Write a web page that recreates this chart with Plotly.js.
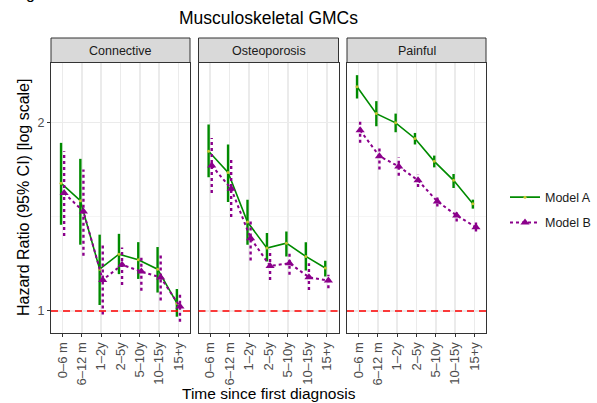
<!DOCTYPE html>
<html><head><meta charset="utf-8">
<script src="https://cdn.plot.ly/plotly-3.0.1.min.js"></script>
<style>html,body{margin:0;padding:0;background:#fff}</style>
</head><body><div id="chart" style="width:597px;height:403px"></div>
<script>
// ---- data ----
const categories = ['0\u20136 m','6\u201312 m','1\u20132y','2\u20135y','5\u201310y','10\u201315y','15+y'];
const panels = ['Connective','Osteoporosis','Painful'];
const seriesNames = ['Model A','Model B'];
const refLine = 1;

const connA    = [1.600,1.500,1.166,1.232,1.207,1.166,1.029];
const connA_lo = [1.373,1.276,1.022,1.145,1.125,1.070,0.979];
const connA_hi = [1.856,1.750,1.324,1.328,1.288,1.265,1.084];
const connB    = [1.543,1.442,1.121,1.185,1.156,1.131,1.016];
const connB_lo = [1.318,1.225,0.987,1.100,1.077,1.039,0.961];
const connB_hi = [1.800,1.682,1.276,1.263,1.229,1.226,1.071];

const osteoA    = [1.800,1.665,1.387,1.260,1.283,1.222,1.171];
const osteoA_lo = [1.635,1.493,1.276,1.199,1.222,1.160,1.135];
const osteoA_hi = [1.986,1.845,1.506,1.332,1.340,1.288,1.203];
const osteoB    = [1.707,1.568,1.307,1.180,1.192,1.132,1.118];
const osteoB_lo = [1.543,1.413,1.204,1.121,1.142,1.080,1.087];
const osteoB_hi = [1.890,1.745,1.390,1.252,1.246,1.192,1.142];

const painA    = [2.281,2.067,1.998,1.886,1.734,1.617,1.483];
const painA_lo = [2.185,1.973,1.930,1.845,1.696,1.572,1.457];
const painA_hi = [2.381,2.164,2.067,1.925,1.771,1.655,1.506];
const painB    = [1.944,1.767,1.702,1.617,1.496,1.421,1.361];
const painB_lo = [1.856,1.682,1.645,1.578,1.469,1.390,1.340];
const painB_hi = [2.022,1.833,1.760,1.651,1.524,1.451,1.385];

// ---- build ----
const A = [[connA,connA_lo,connA_hi],[osteoA,osteoA_lo,osteoA_hi],[painA,painA_lo,painA_hi]];
const B = [[connB,connB_lo,connB_hi],[osteoB,osteoB_lo,osteoB_hi],[painB,painB_lo,painB_hi]];
const FONT = 'Liberation Sans, Arial, sans-serif';
const DODGE = 0.08;
const styles = [
  {color:'#008B00', lineW:1.6, dash:'solid', ciW:2.4, marker:{symbol:'circle', size:3, color:'#c8c832'}},
  {color:'#8B008B', lineW:2, dash:'3px,3px', ciW:2.4, marker:{symbol:'triangle-up', size:8, color:'#8B008B'}}
];
const traces = [];
panels.forEach((p, pi) => {
  const xa = pi === 0 ? 'x' : 'x' + (pi + 1);
  const ya = pi === 0 ? 'y' : 'y' + (pi + 1);
  [A[pi], B[pi]].forEach((s, si) => {
    const st = styles[si];
    const off = si === 0 ? -DODGE : DODGE;
    const xs = categories.map((c, i) => i + off);
    const cx = [], cy = [];
    xs.forEach((x, i) => { cx.push(x, x, null); cy.push(s[1][i], s[2][i], null); });
    traces.push({x: cx, y: cy, xaxis: xa, yaxis: ya, mode: 'lines', type: 'scatter',
      line: {color: st.color, width: st.ciW, dash: st.dash}, showlegend: false,
      legendgroup: seriesNames[si], hoverinfo: 'skip'});
    traces.push({x: xs, y: s[0], xaxis: xa, yaxis: ya, mode: 'lines+markers', type: 'scatter',
      name: seriesNames[si], legendgroup: seriesNames[si], showlegend: pi === 0,
      line: {color: st.color, width: st.lineW, dash: st.dash}, marker: st.marker, hoverinfo: 'skip'});
  });
});

const L = 51, R = 486, T = 63, Bt = 333, W = 597, H = 403;
const pw = R - L, ph = Bt - T;
const px2x = v => (v - L) / pw;
const px2y = v => 1 - (v - T) / ph;
const domains = [[px2x(51), px2x(190)], [px2x(198.5), px2x(338.5)], [px2x(347), px2x(486)]];

const layout = {
  width: W, height: H, paper_bgcolor: '#fff', plot_bgcolor: '#fff',
  margin: {l: L, r: W - R, t: T, b: H - Bt, pad: 0, autoexpand: false},
  font: {family: FONT, size: 12, color: '#4d4d4d'},
  title: {text: 'Musculoskeletal GMCs', font: {family: FONT, size: 17.5, color: '#000'},
          x: 0.5, xref: 'paper', xanchor: 'center', y: 1 - 18 / H, yref: 'container', yanchor: 'middle'},
  showlegend: true,
  legend: {x: px2x(505), xanchor: 'left', y: px2y(210), yanchor: 'middle', bgcolor: 'rgba(0,0,0,0)',
           font: {family: FONT, size: 12.5, color: '#1a1a1a'}, itemwidth: 30, tracegroupgap: 6},
  shapes: [], annotations: []
};
const ylog = [Math.log10(0.922), Math.log10(2.49)];
panels.forEach((p, pi) => {
  const xk = pi === 0 ? 'xaxis' : 'xaxis' + (pi + 1);
  const yk = pi === 0 ? 'yaxis' : 'yaxis' + (pi + 1);
  const xa = pi === 0 ? 'x' : 'x' + (pi + 1);
  const ya = pi === 0 ? 'y' : 'y' + (pi + 1);
  layout[xk] = {domain: domains[pi], anchor: ya, range: [-0.6, categories.length - 0.4],
    tickmode: 'array', tickvals: categories.map((c, i) => i), ticktext: categories, tickangle: -90,
    showgrid: true, gridcolor: '#ebebeb', gridwidth: 1.4, zeroline: false,
    showline: true, mirror: true, linecolor: '#333333', linewidth: 1,
    ticks: 'outside', ticklen: 3, tickcolor: '#333333', tickwidth: 1,
    tickfont: {family: FONT, size: 13, color: '#4d4d4d'}, fixedrange: true};
  layout[yk] = {type: 'log', range: ylog, anchor: xa, domain: [0, 1],
    tickmode: 'array', tickvals: [1, 2], ticktext: ['1', '2'], showticklabels: pi === 0,
    showgrid: true, gridcolor: '#ebebeb', gridwidth: 1.4, zeroline: false,
    minor: {tickmode: 'array', tickvals: [Math.SQRT2], showgrid: true, gridcolor: '#f3f3f3', gridwidth: 0.8, ticks: ''},
    showline: true, mirror: true, linecolor: '#333333', linewidth: 1,
    ticks: pi === 0 ? 'outside' : '', ticklen: 3, tickcolor: '#333333', tickwidth: 1,
    tickfont: {family: FONT, size: 12.5, color: '#4d4d4d'}, fixedrange: true};
  // strip
  layout.shapes.push({type: 'rect', xref: xa + ' domain', yref: 'paper', x0: 0, x1: 1,
    y0: 1 + 0.5 / ph, y1: px2y(38), fillcolor: '#d9d9d9', line: {color: '#333333', width: 1}, layer: 'above'});
  layout.annotations.push({text: p, xref: xa + ' domain', yref: 'paper', x: 0.5, y: px2y(50.5),
    xanchor: 'center', yanchor: 'middle', showarrow: false, font: {family: FONT, size: 12.5, color: '#1a1a1a'}});
  // reference line
  layout.shapes.push({type: 'line', xref: xa + ' domain', yref: ya, x0: 0, x1: 1, y0: refLine, y1: refLine,
    line: {color: '#ff0000', width: 1.4, dash: '7px,5px'}, layer: 'above'});
});
layout.annotations.push({text: 'Time since first diagnosis', xref: 'paper', yref: 'paper', x: 0.5, y: px2y(393),
  xanchor: 'center', yanchor: 'middle', showarrow: false, font: {family: FONT, size: 15.5, color: '#000'}});
layout.annotations.push({text: 'Hazard Ratio (95% CI) [log scale]', xref: 'paper', yref: 'paper', x: px2x(23), y: 0.5,
  xanchor: 'center', yanchor: 'middle', textangle: -90, showarrow: false, font: {family: FONT, size: 16, color: '#000'}});
layout.annotations.push({text: 'g', xref: 'paper', yref: 'paper', x: px2x(30), y: px2y(4),
  xanchor: 'center', yanchor: 'bottom', showarrow: false, font: {family: FONT, size: 16, color: '#000'}});

Plotly.newPlot('chart', traces, layout, {staticPlot: true, displayModeBar: false});
</script></body></html>
